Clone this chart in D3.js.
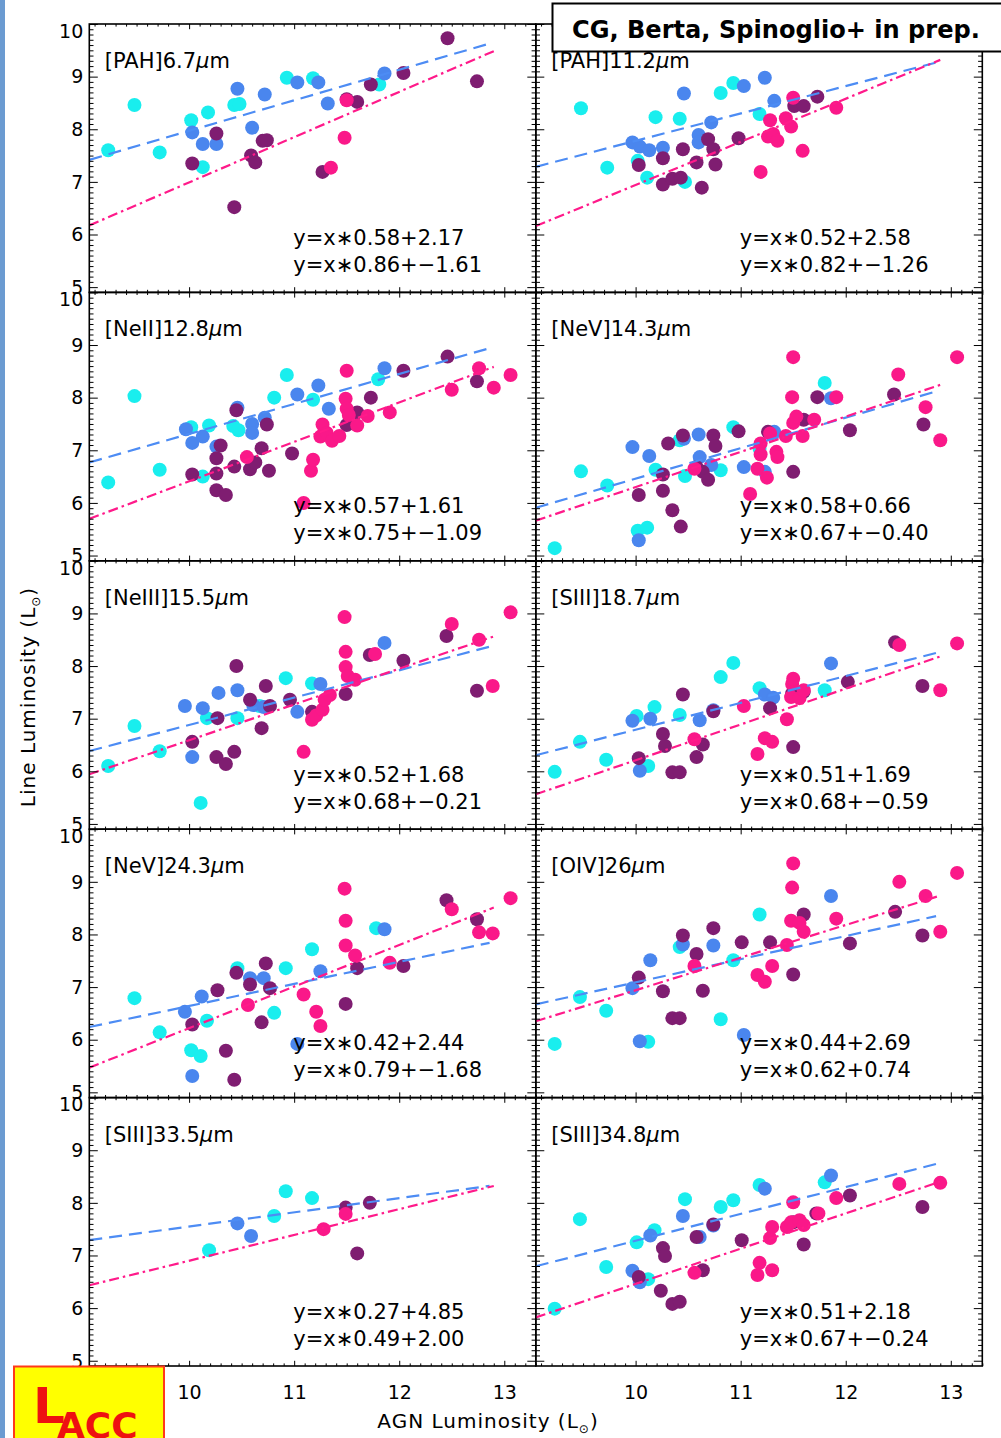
<!DOCTYPE html>
<html>
<head>
<meta charset="utf-8">
<script src="https://cdn.jsdelivr.net/npm/d3@7"></script>
<style>
  body { margin: 0; background: #fff; }
  svg { display: block; }
  text { font-family: "DejaVu Sans", "Liberation Sans", sans-serif; fill: #000; }
</style>
</head>
<body>
<svg id="fig" width="1001" height="1438"></svg>
<script>
// ---- axes ----
const xDomain = [9.05, 13.3];
const yDomain = [4.9, 10];
const xMajor = [10, 11, 12, 13];
const yMajor = [5, 6, 7, 8, 9, 10];

// ---- emission lines and fitted relations ----
const lineNames = ["[PAH]6.7", "[PAH]11.2", "[NeII]12.8", "[NeV]14.3", "[NeIII]15.5",
                   "[SIII]18.7", "[NeV]24.3", "[OIV]26", "[SIII]33.5", "[SIII]34.8"];
const blueSlope     = [0.58, 0.52, 0.57, 0.58, 0.52, 0.51, 0.42, 0.44, 0.27, 0.51];
const blueIntercept = [2.17, 2.58, 1.61, 0.66, 1.68, 1.69, 2.44, 2.69, 4.85, 2.18];
const pinkSlope     = [0.86, 0.82, 0.75, 0.67, 0.68, 0.68, 0.79, 0.62, 0.49, 0.67];
const pinkIntercept = [-1.61, -1.26, -1.09, -0.40, -0.21, -0.59, -1.68, 0.74, 2.00, -0.24];
const fitStart = 9.05, blueFitEnd = 12.86, pinkFitEnd = 12.9;

// ---- [PAH] 6.7um ----
const pah67Cyan   = [[9.23,7.60],[9.48,8.46],[9.72,7.56],[10.02,8.17],[10.18,8.32],[10.13,7.28],[10.43,8.46],[10.48,8.48],[10.93,8.98],[11.18,8.97],[11.81,8.85]];
const pah67Blue   = [[10.03,7.94],[10.13,7.72],[10.26,7.72],[10.46,8.77],[10.60,8.03],[10.72,8.66],[11.03,8.89],[11.23,8.89],[11.32,8.49],[11.86,9.06]];
const pah67Purple = [[10.03,7.35],[10.26,7.92],[10.43,6.52],[10.59,7.50],[10.63,7.37],[10.70,7.78],[10.74,7.79],[11.27,7.19],[11.50,8.57],[11.60,8.52],[11.73,8.85],[12.04,9.07],[12.46,9.73],[12.74,8.91]];
const pah67Pink   = [[11.50,8.55],[11.48,7.84],[11.35,7.27]];

// ---- [PAH] 11.2um ----
const pah112Cyan   = [[9.48,8.40],[9.73,7.27],[10.02,7.40],[10.11,7.08],[10.19,8.23],[10.42,8.20],[10.47,7.00],[10.81,8.69],[10.93,8.88],[11.18,8.29]];
const pah112Blue   = [[9.97,7.75],[10.04,7.67],[10.13,7.60],[10.26,7.65],[10.46,8.68],[10.60,7.89],[10.60,7.75],[10.72,8.13],[11.03,8.82],[11.23,8.98],[11.32,8.54]];
const pah112Purple = [[10.03,7.32],[10.26,7.45],[10.26,6.95],[10.35,7.06],[10.43,7.08],[10.45,7.62],[10.58,7.37],[10.63,6.89],[10.69,7.81],[10.74,7.62],[10.76,7.33],[10.98,7.83],[11.51,8.44],[11.60,8.44],[11.73,8.62]];
const pah112Pink   = [[11.19,7.19],[11.28,8.17],[11.26,7.86],[11.31,7.91],[11.35,7.78],[11.43,8.21],[11.48,8.05],[11.50,8.60],[11.59,7.59],[11.91,8.41]];

// ---- [NeII] 12.8um ----
const neii128Cyan   = [[9.23,6.39],[9.48,8.03],[9.72,6.63],[10.02,7.44],[10.13,6.50],[10.19,7.47],[10.42,7.46],[10.47,7.38],[10.81,8.00],[10.93,8.43],[11.18,7.96],[11.80,8.35]];
const neii128Blue   = [[9.97,7.40],[10.03,7.14],[10.13,7.26],[10.26,7.07],[10.46,7.81],[10.60,7.50],[10.60,7.33],[10.72,7.62],[11.03,8.06],[11.23,8.23],[11.33,7.79],[11.86,8.56]];
const neii128Purple = [[10.03,6.54],[10.26,6.85],[10.30,7.09],[10.26,6.56],[10.26,6.24],[10.35,6.15],[10.43,6.69],[10.45,7.76],[10.58,6.64],[10.63,6.77],[10.69,7.04],[10.74,7.49],[10.76,6.61],[10.98,6.94],[11.50,7.48],[11.60,7.72],[11.73,8.00],[12.04,8.51],[12.46,8.78],[12.74,8.31]];
const neii128Pink   = [[10.55,6.87],[11.09,6.00],[11.16,6.61],[11.18,6.82],[11.27,7.49],[11.25,7.26],[11.31,7.33],[11.36,7.18],[11.43,7.27],[11.50,8.51],[11.49,7.98],[11.50,7.79],[11.52,7.67],[11.60,7.47],[11.70,7.65],[11.91,7.72],[12.50,8.15],[12.76,8.56],[12.90,8.19],[13.06,8.43]];

// ---- [NeV] 14.3um ----
const nev143Cyan   = [[9.23,5.14],[9.48,6.60],[9.73,6.33],[10.02,5.47],[10.11,5.53],[10.19,6.63],[10.42,7.19],[10.47,6.51],[10.81,6.62],[10.93,7.44],[11.18,7.03],[11.80,8.28]];
const nev143Blue   = [[9.97,7.06],[10.03,5.29],[10.13,6.89],[10.46,7.22],[10.60,7.30],[10.61,6.87],[10.72,6.72],[11.03,6.68],[11.23,6.59],[11.32,7.35],[11.86,7.99]];
const nev143Purple = [[10.03,6.15],[10.26,6.54],[10.26,6.23],[10.31,7.13],[10.35,5.86],[10.43,5.55],[10.45,7.28],[10.58,6.68],[10.64,6.59],[10.69,6.44],[10.74,7.28],[10.76,7.08],[10.98,7.36],[11.26,7.35],[11.50,6.59],[11.60,7.58],[11.73,8.01],[12.04,7.38],[12.46,8.06],[12.74,7.49]];
const nev143Pink   = [[10.56,6.65],[11.09,6.17],[11.16,6.65],[11.19,7.13],[11.19,6.92],[11.25,6.48],[11.28,7.32],[11.34,6.97],[11.35,6.87],[11.43,7.27],[11.50,8.77],[11.49,8.01],[11.50,7.52],[11.53,7.64],[11.59,7.27],[11.70,7.58],[11.91,8.01],[12.50,8.44],[12.76,7.82],[12.90,7.19],[13.06,8.77]];

// ---- [NeIII] 15.5um ----
const neiii155Cyan   = [[9.23,6.10],[9.48,6.86],[9.72,6.38],[10.11,5.40],[10.17,7.01],[10.46,7.01],[10.67,7.24],[10.92,7.77],[11.17,7.67]];
const neiii155Blue   = [[9.96,7.24],[10.03,6.27],[10.13,7.20],[10.28,7.49],[10.46,7.54],[10.61,7.26],[10.71,7.22],[11.03,7.13],[11.25,7.66],[11.86,8.44]];
const neiii155Purple = [[10.03,6.56],[10.27,7.01],[10.26,6.27],[10.35,6.14],[10.43,6.37],[10.45,8.00],[10.58,7.36],[10.69,6.82],[10.73,7.62],[10.77,7.24],[10.96,7.36],[11.17,7.13],[11.49,7.47],[11.72,8.21],[12.04,8.10],[12.45,8.57],[12.74,7.53]];
const neiii155Pink   = [[11.09,6.37],[11.17,6.98],[11.21,7.06],[11.27,7.17],[11.29,7.36],[11.34,7.45],[11.48,8.93],[11.49,8.27],[11.49,7.98],[11.51,7.81],[11.58,7.74],[11.77,8.23],[12.50,8.80],[12.76,8.50],[12.89,7.62],[13.06,9.02]];

// ---- [SIII] 18.7um ----
const siii187Cyan   = [[9.23,5.99],[9.47,6.56],[9.72,6.22],[10.01,7.05],[10.12,6.10],[10.18,7.22],[10.42,7.07],[10.81,7.79],[10.93,8.06],[11.18,7.58],[11.80,7.54]];
const siii187Blue   = [[9.97,6.96],[10.04,6.01],[10.14,7.00],[10.61,6.97],[10.74,7.16],[11.23,7.46],[11.31,7.40],[11.86,8.05]];
const siii187Purple = [[10.03,6.25],[10.26,6.71],[10.28,6.48],[10.35,5.98],[10.42,5.98],[10.45,7.46],[10.58,6.27],[10.64,6.51],[10.74,7.14],[11.28,7.20],[11.50,6.46],[11.49,7.48],[11.60,7.51],[12.02,7.70],[12.47,8.45],[12.73,7.62]];
const siii187Pink   = [[10.56,6.61],[11.16,6.33],[11.23,6.63],[11.30,6.56],[11.03,7.24],[11.44,6.99],[11.48,7.41],[11.49,7.66],[11.50,7.76],[11.56,7.39],[11.60,7.54],[12.51,8.40],[12.90,7.54],[13.06,8.43]];

// ---- [NeV] 24.3um ----
const nev243Cyan   = [[9.48,6.79],[9.72,6.14],[10.02,5.80],[10.11,5.69],[10.17,6.36],[10.46,7.36],[10.81,6.51],[10.92,7.36],[11.17,7.72],[11.78,8.12]];
const nev243Blue   = [[9.96,6.53],[10.03,5.31],[10.12,6.82],[10.58,7.17],[10.71,7.17],[11.03,5.92],[11.25,7.30],[11.86,8.10]];
const nev243Purple = [[10.03,6.29],[10.27,6.94],[10.35,5.79],[10.43,5.24],[10.45,7.27],[10.58,7.05],[10.69,6.33],[10.73,7.45],[10.77,6.98],[11.49,6.68],[11.60,7.36],[12.04,7.40],[12.45,8.65],[12.74,8.29]];
const nev243Pink   = [[10.56,6.66],[11.09,6.86],[11.21,6.53],[11.25,6.26],[11.48,8.87],[11.49,8.26],[11.49,7.79],[11.58,7.60],[11.91,7.46],[12.50,8.48],[12.76,8.04],[12.89,8.02],[13.06,8.69]];

// ---- [OIV] 26um ----
const oiv26Cyan   = [[9.23,5.92],[9.47,6.81],[9.72,6.55],[10.12,5.96],[10.42,7.76],[10.81,6.39],[10.93,7.51],[11.18,8.38]];
const oiv26Blue   = [[9.97,6.98],[10.04,5.97],[10.14,7.51],[10.45,7.81],[10.74,7.79],[11.03,6.09],[11.86,8.73]];
const oiv26Purple = [[10.03,7.18],[10.26,6.92],[10.35,6.41],[10.42,6.41],[10.45,7.98],[10.58,7.63],[10.64,6.93],[10.74,8.12],[11.01,7.85],[11.28,7.85],[11.50,7.24],[11.60,8.38],[12.04,7.83],[12.47,8.43],[12.73,7.98]];
const oiv26Pink   = [[10.56,7.40],[11.16,7.23],[11.23,7.10],[11.30,7.40],[11.44,7.80],[11.48,8.26],[11.49,8.89],[11.50,9.35],[11.56,8.22],[11.60,8.05],[11.91,8.30],[12.51,9.00],[12.76,8.73],[12.90,8.05],[13.06,9.17]];

// ---- [SIII] 33.5um ----
const siii335Cyan   = [[10.19,7.10],[10.81,7.75],[10.92,8.22],[11.17,8.09]];
const siii335Blue   = [[10.46,7.61],[10.59,7.37]];
const siii335Purple = [[11.49,7.91],[11.72,8.00],[11.60,7.04]];
const siii335Pink   = [[11.28,7.50],[11.49,7.79]];

// ---- [SIII] 34.8um ----
const siii348Cyan   = [[9.23,5.99],[9.47,7.69],[9.72,6.78],[10.01,7.25],[10.12,6.55],[10.18,7.48],[10.47,8.07],[10.81,7.92],[10.93,8.05],[11.18,8.34],[11.80,8.39]];
const siii348Blue   = [[9.97,6.71],[10.04,6.49],[10.14,7.38],[10.45,7.75],[10.61,7.35],[10.74,7.57],[11.23,8.27],[11.86,8.52]];
const siii348Purple = [[10.03,6.59],[10.26,7.14],[10.28,6.99],[10.24,6.33],[10.35,6.08],[10.42,6.12],[10.58,7.35],[10.64,6.72],[10.74,7.59],[11.01,7.29],[11.50,7.63],[11.60,7.21],[11.72,7.80],[12.04,8.14],[12.73,7.92]];
const siii348Pink   = [[10.56,6.67],[11.16,6.63],[11.18,6.86],[11.30,6.72],[11.28,7.33],[11.30,7.54],[11.44,7.54],[11.48,7.63],[11.50,8.01],[11.56,7.67],[11.60,7.58],[11.74,7.80],[11.91,8.09],[12.51,8.36],[12.90,8.38]];

const panelPoints = [
  [pah67Cyan, pah67Blue, pah67Purple, pah67Pink],
  [pah112Cyan, pah112Blue, pah112Purple, pah112Pink],
  [neii128Cyan, neii128Blue, neii128Purple, neii128Pink],
  [nev143Cyan, nev143Blue, nev143Purple, nev143Pink],
  [neiii155Cyan, neiii155Blue, neiii155Purple, neiii155Pink],
  [siii187Cyan, siii187Blue, siii187Purple, siii187Pink],
  [nev243Cyan, nev243Blue, nev243Purple, nev243Pink],
  [oiv26Cyan, oiv26Blue, oiv26Purple, oiv26Pink],
  [siii335Cyan, siii335Blue, siii335Purple, siii335Pink],
  [siii348Cyan, siii348Blue, siii348Purple, siii348Pink]
];
const pointColors = ["#19eeee", "#4a86ee", "#7f1d71", "#fa1889"];
const blueLineColor = "#4d8cf4", pinkLineColor = "#ff1a8a";

// ---- layout ----
const svg = d3.select("#fig");
const left0 = 89.3, top0 = 24, panelW = 446.5, panelH = 268.4;
const nRows = 5;

const x = d3.scaleLinear().domain(xDomain).range([0, panelW]);
const y = d3.scaleLinear().domain(yDomain).range([panelH, 0]);
const xMinor = d3.range(91, 134).map(v => v / 10).filter(v => !xMajor.includes(v));
const yMinor = d3.range(50, 100).map(v => v / 10).filter(v => !yMajor.includes(v));

// left edge strip
svg.append("rect").attr("x", 0).attr("y", 0).attr("width", 5).attr("height", 1438).attr("fill", "#6b9bd1");

const defs = svg.append("defs");
defs.append("clipPath").attr("id", "panelClip")
  .append("rect").attr("width", panelW).attr("height", panelH);

function fmtEq(s, b) {
  const bs = b < 0 ? "\u2212" + (-b).toFixed(2) : b.toFixed(2);
  return "y=x\u2217" + s.toFixed(2) + "+" + bs;
}

function cleanAxis(g) {
  g.select(".domain").remove();
  g.selectAll(".tick line").attr("stroke", "#000").attr("stroke-width", 1);
}

lineNames.forEach((name, i) => {
  const col = i % 2, row = Math.floor(i / 2);
  const g = svg.append("g")
    .attr("transform", `translate(${left0 + col * panelW},${top0 + row * panelH})`);

  // points
  const plot = g.append("g").attr("clip-path", "url(#panelClip)");
  panelPoints[i].forEach((pts, k) => {
    plot.append("g").selectAll("circle").data(pts).join("circle")
      .attr("cx", d => x(d[0])).attr("cy", d => y(d[1])).attr("r", 7)
      .attr("fill", pointColors[k]);
  });

  // fitted relations
  const line = d3.line().x(d => x(d[0])).y(d => y(d[1]));
  const blueFit = [fitStart, blueFitEnd].map(v => [v, blueSlope[i] * v + blueIntercept[i]]);
  const pinkFit = [fitStart, pinkFitEnd].map(v => [v, pinkSlope[i] * v + pinkIntercept[i]]);
  plot.append("path").attr("d", line(blueFit)).attr("fill", "none")
    .attr("stroke", blueLineColor).attr("stroke-width", 2.2).attr("stroke-dasharray", "13,7");
  plot.append("path").attr("d", line(pinkFit)).attr("fill", "none")
    .attr("stroke", pinkLineColor).attr("stroke-width", 2.2).attr("stroke-dasharray", "10,4,2.5,4");

  // ticks on all four sides, pointing inward
  const yMajLen = 8.5, yMinLen = 4.2, xMajLen = 5.2, xMinLen = 2.6;
  g.append("g").attr("transform", `translate(0,${panelH})`)
    .call(d3.axisBottom(x).tickValues(xMinor).tickSize(-xMinLen).tickFormat("")).call(cleanAxis);
  g.append("g")
    .call(d3.axisTop(x).tickValues(xMinor).tickSize(-xMinLen).tickFormat("")).call(cleanAxis);
  g.append("g")
    .call(d3.axisTop(x).tickValues(xMajor).tickSize(-xMajLen).tickFormat("")).call(cleanAxis);
  g.append("g")
    .call(d3.axisLeft(y).tickValues(yMinor).tickSize(-yMinLen).tickFormat("")).call(cleanAxis);
  g.append("g").attr("transform", `translate(${panelW},0)`)
    .call(d3.axisRight(y).tickValues(yMinor).tickSize(-yMinLen).tickFormat("")).call(cleanAxis);
  g.append("g").attr("transform", `translate(${panelW},0)`)
    .call(d3.axisRight(y).tickValues(yMajor).tickSize(-yMajLen).tickFormat("")).call(cleanAxis);

  const xb = g.append("g").attr("transform", `translate(0,${panelH})`)
    .call(d3.axisBottom(x).tickValues(xMajor).tickSize(-xMajLen).tickPadding(20)
      .tickFormat(row === nRows - 1 ? d3.format("d") : ""))
    .call(cleanAxis);
  xb.selectAll("text").attr("font-size", 19).attr("font-family", null).attr("fill", "#000");

  const yl = g.append("g")
    .call(d3.axisLeft(y).tickValues(yMajor).tickSize(-yMajLen).tickPadding(6)
      .tickFormat(col === 0 ? d3.format("d") : ""))
    .call(cleanAxis);
  yl.selectAll("text").attr("font-size", 19).attr("font-family", null).attr("fill", "#000")
    .attr("dy", d => d === 10 ? "0.7em" : "0.33em");

  // frame
  g.append("rect").attr("width", panelW).attr("height", panelH)
    .attr("fill", "none").attr("stroke", "#000").attr("stroke-width", 1.6);

  // line name
  const lab = g.append("text").attr("x", 15.5).attr("y", 44).attr("font-size", 21);
  lab.append("tspan").text(name);
  lab.append("tspan").attr("font-style", "italic").text("\u03bc");
  lab.append("tspan").text("m");

  // fit equations
  g.append("text").attr("x", 204).attr("y", 221).attr("font-size", 21)
    .text(fmtEq(blueSlope[i], blueIntercept[i]));
  g.append("text").attr("x", 204).attr("y", 248).attr("font-size", 21)
    .text(fmtEq(pinkSlope[i], pinkIntercept[i]));
});

// axis titles
function solarLabel(t, base) {
  t.append("tspan").text(base + " (L");
  t.append("tspan").attr("font-size", 12).attr("dy", 5).text("\u2299");
  t.append("tspan").attr("dy", -5).text(")");
}
solarLabel(svg.append("text").attr("x", 488).attr("y", 1428).attr("font-size", 20)
  .attr("text-anchor", "middle").attr("letter-spacing", 1), "AGN Luminosity");
solarLabel(svg.append("text").attr("transform", "translate(35,697) rotate(-90)")
  .attr("font-size", 20).attr("text-anchor", "middle").attr("letter-spacing", 1), "Line Luminosity");

// credit box
svg.append("rect").attr("x", 552.5).attr("y", 3.5).attr("width", 470).attr("height", 48)
  .attr("fill", "#fff").attr("stroke", "#000").attr("stroke-width", 2);
svg.append("text").attr("x", 572).attr("y", 38).attr("font-size", 25).attr("font-weight", "bold")
  .attr("textLength", 408).attr("lengthAdjust", "spacingAndGlyphs")
  .text("CG, Berta, Spinoglio+ in prep.");

// badge
svg.append("rect").attr("x", 14).attr("y", 1366.5).attr("width", 150).attr("height", 80)
  .attr("fill", "#ffff00").attr("stroke", "#ff3a1a").attr("stroke-width", 2);
svg.append("text").attr("x", 33).attr("y", 1423).attr("font-size", 50).attr("font-weight", "bold")
  .style("fill", "#ee1111").text("L");
svg.append("text").attr("x", 57).attr("y", 1438).attr("font-size", 36).attr("font-weight", "bold")
  .style("fill", "#ee1111").text("ACC");
</script>
</body>
</html>
